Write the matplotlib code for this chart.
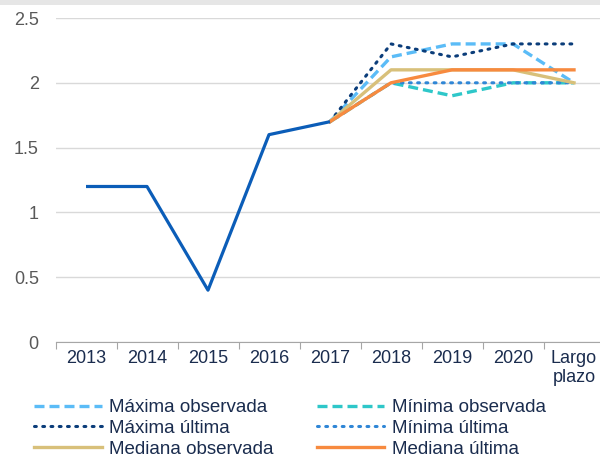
import matplotlib.pyplot as plt
import numpy as np
from matplotlib.patches import Rectangle

plt.rcParams['font.family'] = ['Liberation Sans', 'DejaVu Sans']

# Datos
categorias = ["2013", "2014", "2015", "2016", "2017", "2018", "2019", "2020", "Largo\nplazo"]
historico = [1.2, 1.2, 0.4, 1.6, 1.7]
# proyecciones desde 2017 hasta largo plazo
maxima_observada = [1.7, 2.2, 2.3, 2.3, 2.0]
minima_observada = [1.7, 2.0, 1.9, 2.0, 2.0]
maxima_ultima = [1.7, 2.3, 2.2, 2.3, 2.3]
minima_ultima = [1.7, 2.0, 2.0, 2.0, 2.0]
mediana_observada = [1.7, 2.1, 2.1, 2.1, 2.0]
mediana_ultima = [1.7, 2.0, 2.1, 2.1, 2.1]

x = np.arange(len(categorias))
x_hist = x[:len(historico)]
x_proj = x[4:]

fig = plt.figure(figsize=(6, 4.57), dpi=100)
ax = fig.add_axes([0.0925, 0.2516, 0.915, 0.709])

# franja gris superior (título recortado)
fig.patches.append(Rectangle((0, 0.989), 1, 0.011, transform=fig.transFigure,
                             facecolor="#e6e6e6", edgecolor="none"))

ax.plot(x_hist, historico, color="#0b5db8", lw=2.3, solid_capstyle="butt", zorder=3)

l1, = ax.plot(x_proj, maxima_observada, color="#5bbcf7", lw=2.4, ls=(0, (3, 1.5)),
              label="Máxima observada")
l2, = ax.plot(x_proj, minima_observada, color="#2ec7c9", lw=2.4, ls=(0, (3, 1.5)),
              label="Mínima observada")
l3, = ax.plot(x_proj, maxima_ultima, color="#0b3d7a", lw=2.2, ls=(0, (0.6, 2.1)),
              dash_capstyle="round", label="Máxima última")
l4, = ax.plot(x_proj, minima_ultima, color="#2f86d6", lw=2.2, ls=(0, (0.6, 2.1)),
              dash_capstyle="round", label="Mínima última")
l5, = ax.plot(x_proj, mediana_observada, color="#d8c07a", lw=2.4, label="Mediana observada")
l6, = ax.plot(x_proj, mediana_ultima, color="#f78a3f", lw=2.4, label="Mediana última")

ax.set_xlim(-0.5, len(categorias) - 0.5)
ax.set_ylim(0, 2.5)
ax.set_yticks([0, 0.5, 1, 1.5, 2, 2.5])
ax.set_yticklabels(["0", "0.5", "1", "1.5", "2", "2.5"])
ax.yaxis.grid(True, color="#d9d9d9", lw=1)
ax.set_axisbelow(True)

ax.set_xticks(np.arange(-0.5, len(categorias), 1))
ax.set_xticklabels([])
ax.set_xticks(x, minor=True)
ax.set_xticklabels(categorias, minor=True, fontsize=13, color="#1a2c4e", linespacing=1.15)
ax.tick_params(axis="x", which="major", length=5, color="#a6a6a6", direction="out")
ax.tick_params(axis="x", which="minor", length=0, pad=6)
ax.tick_params(axis="y", length=0, labelsize=13, labelcolor="#595959", pad=12)

for s in ["left", "right", "top"]:
    ax.spines[s].set_visible(False)
ax.spines["bottom"].set_color("#a6a6a6")

leg = fig.legend(handles=[l1, l3, l5, l2, l4, l6], ncol=2, loc="upper left",
                 bbox_to_anchor=(0.057, 1 - 399 / 457), frameon=False, fontsize=13.5,
                 labelcolor="#1a2c4e", handlelength=3.6, handletextpad=0.4,
                 columnspacing=2.3, labelspacing=0.2, borderpad=0, borderaxespad=0)

fig.savefig("out.png", dpi=100)
